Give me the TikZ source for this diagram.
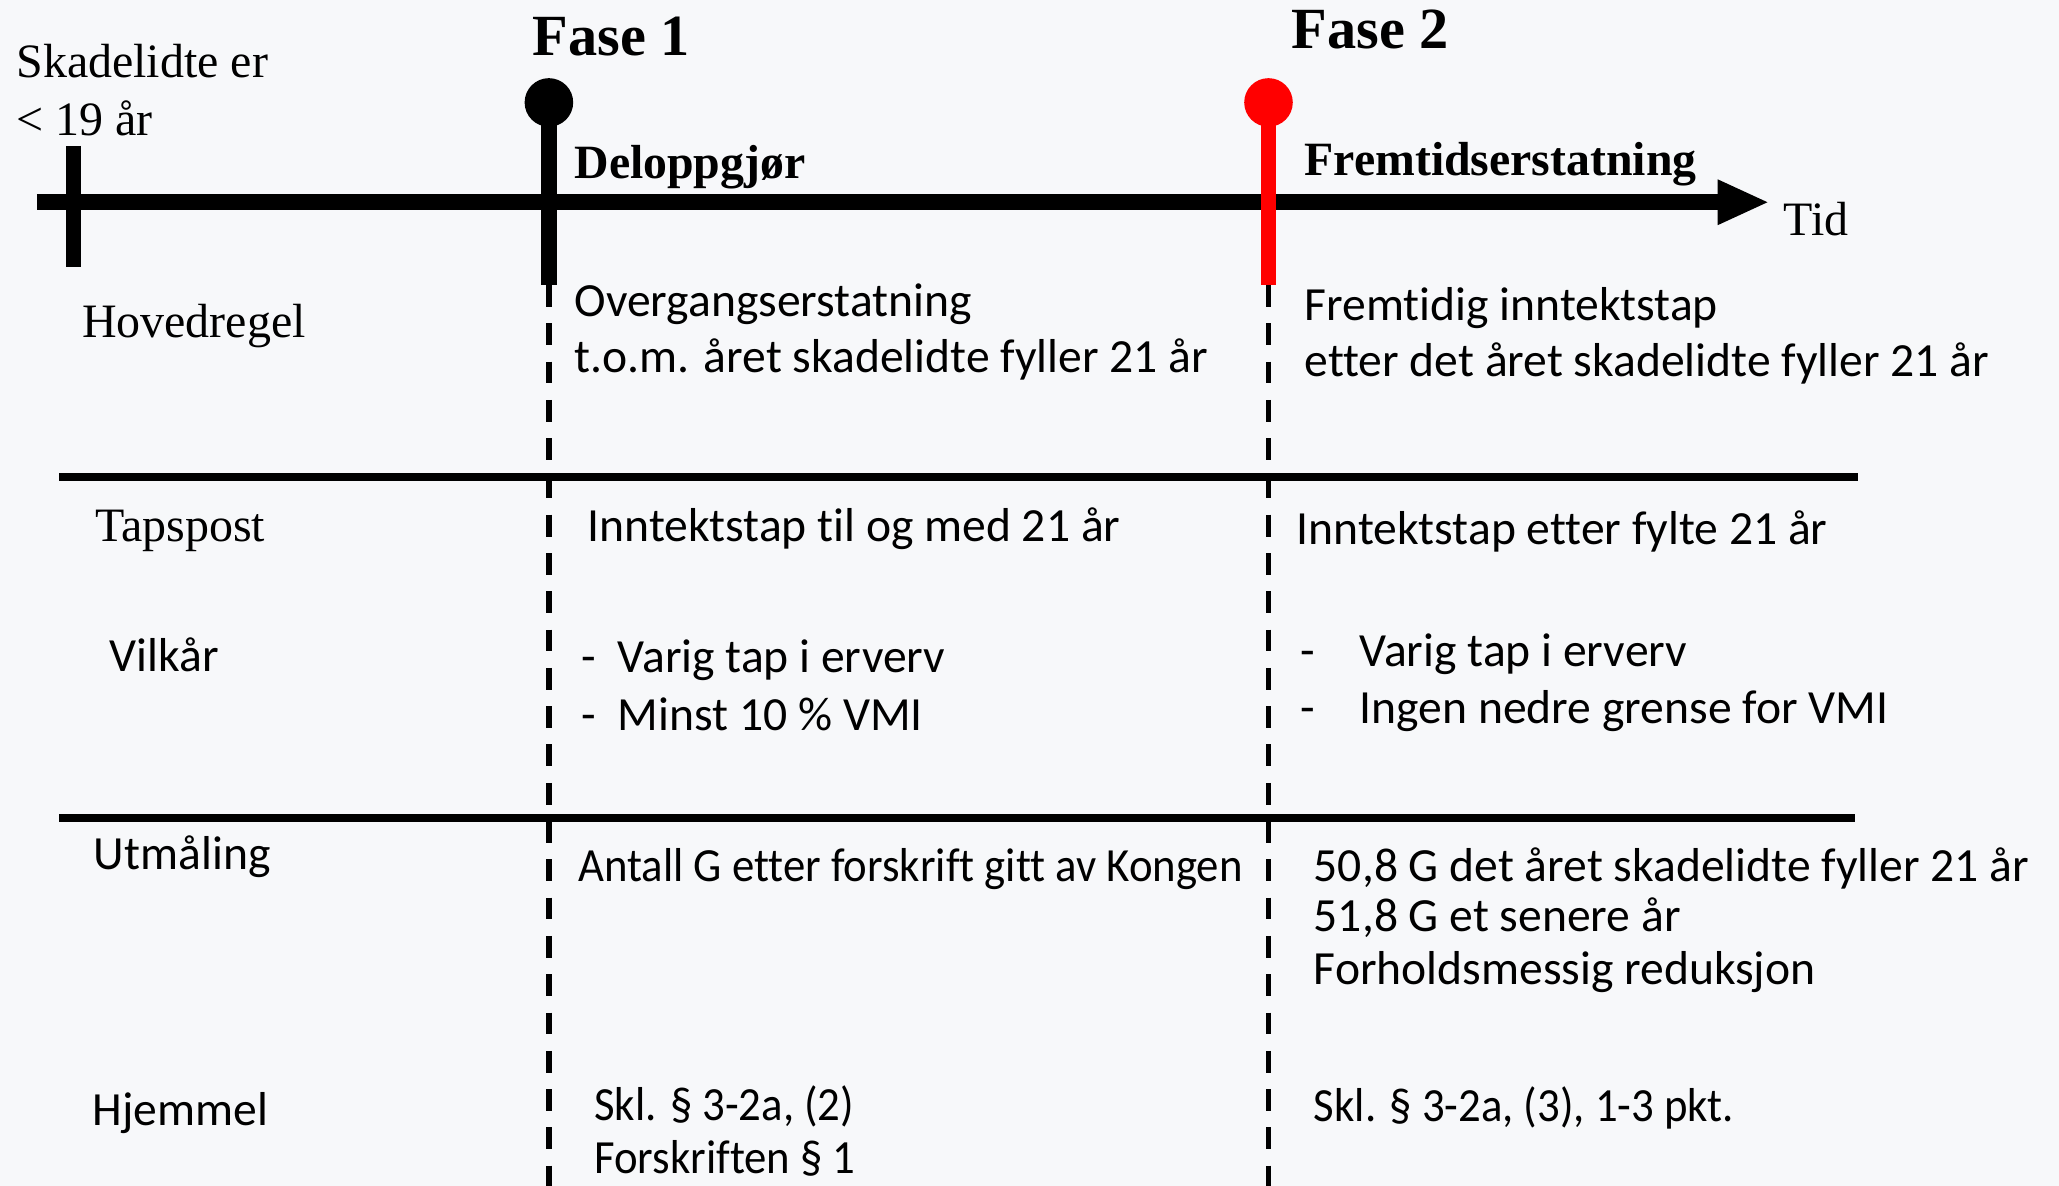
\documentclass[tikz,border=0pt]{standalone}
\usepackage{fontspec}
\setmainfont{Liberation Serif}
\newfontfamily\calfont{Carlito}[Ligatures={NoCommon}]
\newfontfamily\calcfont{Carlito}[FakeStretch=0.94,Ligatures={NoCommon}]
\definecolor{bgc}{RGB}{247,248,250}
\definecolor{pinred}{RGB}{255,0,0}
\begin{document}
\begin{tikzpicture}[x=0.013131cm,y=-0.013131cm,
  serif/.style={anchor=base west, inner sep=0pt, font=\fontsize{13.65}{16}\selectfont},
  sans/.style={anchor=base west, inner sep=0pt, font=\calfont\fontsize{13.55}{16}\selectfont},
  sansc/.style={anchor=base west, inner sep=0pt, font=\calcfont\fontsize{13.55}{16}\selectfont},
  phase/.style={anchor=base west, inner sep=0pt, font=\bfseries\fontsize{16.6}{20}\selectfont},
  headtxt/.style={anchor=base west, inner sep=0pt, font=\bfseries\fontsize{13.6}{16}\selectfont},
  axisline/.style={line width=4.56pt},
  stem/.style={line width=4.5pt},
  sepline/.style={line width=2.35pt},
  guide/.style={line width=1.6pt, dash pattern=on 6.2pt off 4.7pt}]
% background and bounding box
\fill[bgc] (0,0) rectangle (1568,903);
\useasboundingbox (0,0) rectangle (1568,903);

% coordinates
\coordinate (axL) at (28,154);
\coordinate (axR) at (1310,154);
\coordinate (tip) at (1346,154);
\coordinate (tkT) at (56,111);
\coordinate (tkB) at (56,203);
\coordinate (p1c) at (418,78);
\coordinate (p1b) at (418,217);
\coordinate (p1e) at (418,903);
\coordinate (p2c) at (966,78);
\coordinate (p2b) at (966,217);
\coordinate (p2e) at (966,903);
\coordinate (s1L) at (45,363);
\coordinate (s1R) at (1415,363);
\coordinate (s2L) at (45,623);
\coordinate (s2R) at (1413,623);

% dashed guides
\draw[guide] (p1b) -- (p1e);
\draw[guide] (p2b) -- (p2e);

% separators
\draw[sepline] (s1L) -- (s1R);
\draw[sepline] (s2L) -- (s2R);

% time axis
\draw[axisline] (axL) -- (axR);
\fill (1308,136.5) -- (tip) -- (1308,171.5) -- cycle;
\draw[stem] (tkT) -- (tkB);

% pins
\draw[stem] (p1c) -- (p1b);
\fill (p1c) circle (18.5);
\draw[stem, pinred] (p2c) -- (p2b);
\fill[pinred] (p2c) circle (18.5);

% top labels
\node[serif] (age1) at (12,59) {Skadelidte er};
\node[serif] (age2) at (12,103) {< 19 år};
\node[phase] (f1) at (405,42) {Fase 1};
\node[phase] (f2) at (983,37) {Fase 2};
\node[headtxt] (h1) at (437,136) {Deloppgjør};
\node[headtxt] (h2) at (993,134) {Fremtidserstatning};
\node[serif] (tid) at (1358,179) {Tid};

% row labels
\node[serif] (r1) at (62,257) {Hovedregel};
\node[serif] (r2) at (72,412.5) {Tapspost};
\node[sans] (r3) at (83,511) {Vilkår};
\node[sans] (r4) at (71,662) {Utmåling};
\node[sans] (r5) at (70,857) {Hjemmel};

% phase 1 column
\node[sans] (a1) at (437,241) {Overgangserstatning};
\node[sans] (a2) at (437,284) {t.o.m. året skadelidte fyller 21 år};
\node[sans] (b1) at (447,412.5) {Inntektstap til og med 21 år};
\node[sans] (c1d) at (442,512) {-};
\node[sans] (c1) at (470,512) {Varig tap i erverv};
\node[sans] (c2d) at (442,556) {-};
\node[sans] (c2) at (470,556) {Minst 10 \% VMI};
\node[sansc] (d1) at (440,671.5) {Antall G etter forskrift gitt av Kongen};
\node[sansc] (e1) at (452,853) {Skl. § 3-2a, (2)};
\node[sansc] (e2) at (452,893.5) {Forskriften § 1};

% phase 2 column
\node[sans] (A1) at (993,243.7) {Fremtidig inntektstap};
\node[sans] (A2) at (993,287) {etter det året skadelidte fyller 21 år};
\node[sans] (B1) at (987,414.3) {Inntektstap etter fylte 21 år};
\node[sans] (C1d) at (990,507.7) {-};
\node[sans] (C1) at (1035,507.7) {Varig tap i erverv};
\node[sans] (C2d) at (990,550.8) {-};
\node[sans] (C2) at (1035,550.8) {Ingen nedre grense for VMI};
\node[sans] (D1) at (1000,671.5) {50,8 G det året skadelidte fyller 21 år};
\node[sans] (D2) at (1000,709.5) {51,8 G et senere år};
\node[sans] (D3) at (1000,750) {Forholdsmessig reduksjon};
\node[sansc] (E1) at (1000,854) {Skl. § 3-2a, (3), 1-3 pkt.};
\end{tikzpicture}
\end{document}
